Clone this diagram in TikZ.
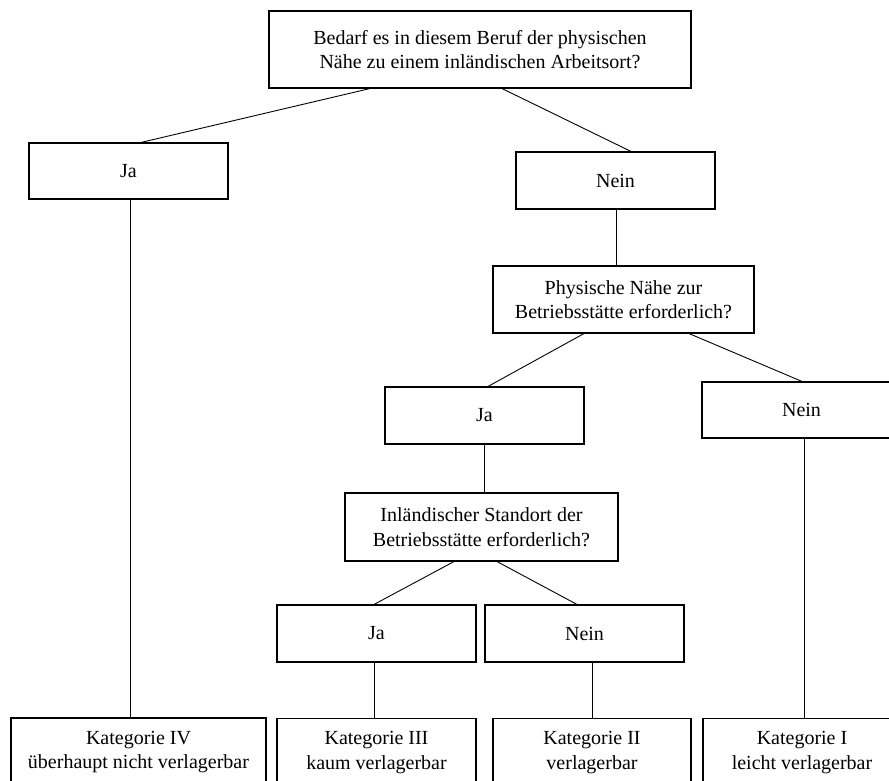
\documentclass[tikz,border=0pt]{standalone}
\usepackage{fontspec}
\setmainfont{Liberation Serif}
\begin{document}
\begin{tikzpicture}[x=1pt,y=-1pt,
  box/.style={draw,line width=1.1pt,rectangle,inner sep=0pt,align=center,
    font=\fontsize{20}{24.5}\selectfont},
  link/.style={draw,line width=0.9pt}]
\useasboundingbox (0,0) rectangle (889,781);
\clip (0,0) rectangle (889,781);
% question boxes
\node[box,minimum width=422pt,minimum height=77pt] (q1) at (480,49.5)
  {Bedarf es in diesem Beruf der physischen\\Nähe zu einem inländischen Arbeitsort?};
\node[box,minimum width=261pt,minimum height=67pt] (q2) at (623.5,299.5)
  {Physische Nähe zur\\Betriebsstätte erforderlich?};
\node[box,minimum width=273pt,minimum height=68pt] (q3) at (481.5,527)
  {Inländischer Standort der\\Betriebsstätte erforderlich?};
% answer boxes
\node[box,minimum width=199pt,minimum height=56pt] (ja1) at (128.5,171) {Ja};
\node[box,minimum width=199pt,minimum height=57pt] (nein1) at (615.5,180.5) {Nein};
\node[box,minimum width=199pt,minimum height=57pt] (ja2) at (484.5,415.5) {Ja};
\node[box,minimum width=199pt,minimum height=56pt] (nein2) at (801.5,410) {Nein};
\node[box,minimum width=199pt,minimum height=57pt] (ja3) at (376.5,633.5) {Ja};
\node[box,minimum width=199pt,minimum height=57pt] (nein3) at (584.5,633.5) {Nein};
% category boxes
\node[box,minimum width=255pt,minimum height=68pt] (k4) at (138.5,752)
  {Kategorie IV\\überhaupt nicht verlagerbar};
\node[box,minimum width=199pt,minimum height=68pt] (k3) at (376.5,752.5)
  {Kategorie III\\kaum verlagerbar};
\node[box,minimum width=198pt,minimum height=68pt] (k2) at (592,752.5)
  {Kategorie II\\verlagerbar};
\node[box,minimum width=198pt,minimum height=68pt] (k1) at (802,752.5)
  {Kategorie I\\leicht verlagerbar};
% connectors
\draw[link] ([xshift=-110pt]q1.south) -- ([xshift=12.5pt]ja1.north);
\draw[link] ([xshift=22pt]q1.south) -- ([xshift=15.5pt]nein1.north);
\draw[link] ([xshift=1.5pt]ja1.south) -- ([xshift=-8.5pt]k4.north);
\draw[link] ([xshift=0.5pt]nein1.south) -- ([xshift=-7.5pt]q2.north);
\draw[link] ([xshift=-39.5pt]q2.south) -- ([xshift=3.5pt]ja2.north);
\draw[link] ([xshift=65.5pt]q2.south) -- ([xshift=0.5pt]nein2.north);
\draw[link] (ja2.south) -- ([xshift=3pt]q3.north);
\draw[link] ([xshift=2.5pt]nein2.south) -- ([xshift=2pt]k1.north);
\draw[link] ([xshift=-27.5pt]q3.south) -- ([xshift=-2.5pt]ja3.north);
\draw[link] ([xshift=15.5pt]q3.south) -- ([xshift=-7.5pt]nein3.north);
\draw[link] ([xshift=-2.5pt]ja3.south) -- ([xshift=-2.5pt]k3.north);
\draw[link] ([xshift=7.5pt]nein3.south) -- (k2.north);
\end{tikzpicture}
\end{document}
